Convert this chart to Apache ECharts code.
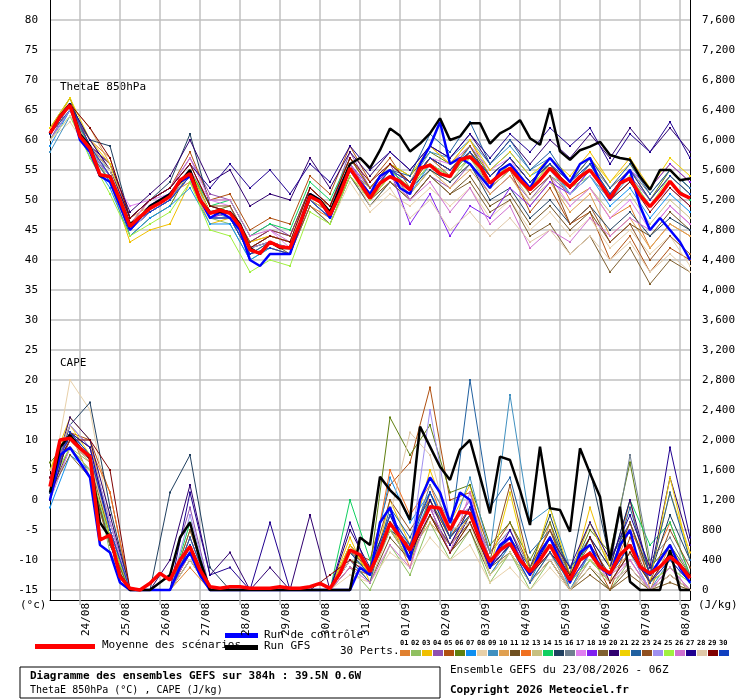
<!DOCTYPE html>
<html>
<head>
<meta charset="utf-8">
<script src="https://cdn.jsdelivr.net/npm/echarts@6/dist/echarts.min.js"></script>
<style>body{margin:0;background:#fff}#chart{width:740px;height:700px}</style>
</head>
<body>
<div id="chart"></div>
<script>
// ensemble GEFS 23/08 06Z, echeances toutes les 6h (0..384h)
var dayLabels = ['24/08','25/08','26/08','27/08','28/08','29/08','30/08','31/08','01/09','02/09','03/09','04/09','05/09','06/09','07/09','08/09'];
var leftTicks = [-15,-10,-5,0,5,10,15,20,25,30,35,40,45,50,55,60,65,70,75,80];
var rightTicks = [0,400,800,1200,1600,2000,2400,2800,3200,3600,4000,4400,4800,5200,5600,6000,6400,6800,7200,7600];
var pertColors = ['#e08030','#90c060','#f0c000','#9050b0','#b05010','#608010','#1090f0','#e8d0a8','#4090c0','#e0a050',
  '#705020','#f07020','#c8c080','#10d060','#204060','#708090','#e080f0','#8020f0','#806030','#300070',
  '#f0d000','#2060a0','#905020','#a090f0','#a0f040','#d070d0','#200090','#e0c8a8','#800000','#1040c0'];

// pas de 6h (65 valeurs)
var meanTheta = [61.1,63.9,65.8,60.6,58.6,54.2,53.9,50,45.6,47.2,48.6,49.5,50.6,53.3,54.4,50,47.8,48.3,47.8,45.6,41.7,41.1,43,42.2,42,46.1,50.6,49.7,47.5,51.1,55.3,
  52.8,50.3,52.8,53.9,53.1,51.7,55.3,55.8,54.4,53.9,56.7,57.2,55.6,52.8,54.2,55.3,53.3,51.7,53.3,55.3,53.6,52.2,53.9,55,52.8,50.3,52.8,53.6,50.8,48.9,50.8,53.1,51.1,50.3];
var ctrlTheta = [61,64,66,60,58,54,53,49,45,47,49,50,51,53,54,50,47,48,47,45,40,39,41,41,41,46,51,50,47,52,55,
  53,51,54,55,52,51,56,59,63,56,57,56,54,52,55,56,54,52,55,57,55,53,56,57,53,50,53,55,49,45,47,45,43,40];
var gfsTheta = [61,64,66,61,59,54,54,50,46,47,49,50,51,53,55,50,48,48,48,46,42,41,43,42,42,46,51,50,48,52,56,
  57,55.3,58.3,61.9,60.7,58.1,59.4,61.1,63.6,60,60.6,62.8,62.8,59.4,61.1,62,63.3,60.3,59.2,65.3,58.1,56.7,58.3,58.9,59.7,57.5,57,56.7,53.9,51.7,55,55,53.3,53.6];
var meanCape = [1378,2000,2022,1889,1778,667,733,178,22,0,89,222,133,400,578,267,44,22,44,44,22,22,22,44,22,22,44,89,22,222,533,
  470,244,533,889,711,533,844,1111,1089,800,1044,1022,667,378,533,622,400,244,400,600,356,133,400,489,311,222,467,600,311,222,311,444,333,156];
var ctrlCape = [1200,1800,1900,1700,1500,600,500,100,0,0,0,0,0,300,500,200,0,0,0,0,0,0,0,0,0,0,0,0,0,0,0,
  300,200,900,1100,700,400,1200,1500,1300,900,1300,1200,700,300,600,700,400,200,500,700,400,100,500,600,300,200,600,800,300,200,400,600,300,100];
var gfsCape = [1300,1900,2067,1900,1750,900,700,200,0,0,0,100,200,700,900,400,0,0,0,0,0,0,0,0,0,0,0,0,0,0,0,
  700,600,1511,1333,1200,933,2178,1911,1644,1467,1867,2000,1511,1022,1778,1733,1333,867,1911,1089,1067,778,1889,1556,1244,400,1111,111,0,0,0,533,0,0];

// perturbations, pas de 12h (33 valeurs)
var pertTheta = [
 [60,65,60,57,46,49,51,55,49,48,43,44,43,51,49,57,52,55,53,59,56,60,54,57,53,56,50,52,47,49,42,46,44],
 [62,66,59,53,45,48,50,54,47,46,40,42,41,50,47,55,50,54,51,55,53,57,52,55,51,54,52,54,50,53,49,53,50],
 [61,67,58,53,43,45,46,53,46,47,42,44,43,51,48,56,51,55,52,57,55,58,53,56,52,57,54,58,53,57,52,56,53],
 [60,66,59,56,47,50,52,57,51,50,44,46,44,52,49,58,52,56,50,54,52,56,51,54,50,54,51,55,51,54,50,54,51],
 [61,65,60,55,46,50,52,58,50,51,45,47,46,54,51,59,53,57,52,57,54,58,52,55,48,52,46,48,40,44,38,42,40],
 [62,67,58,54,44,47,49,55,48,49,42,44,43,50,48,55,52,56,54,58,56,59,54,57,53,56,52,56,51,55,50,55,52],
 [59,65,57,52,44,47,49,52,46,46,40,42,41,49,46,54,49,53,51,56,54,59,55,58,54,56,51,54,49,52,47,51,48],
 [60,63,58,54,46,49,51,53,47,47,41,42,41,49,46,53,48,51,49,52,49,52,47,50,45,48,44,47,42,45,41,44,39],
 [58,64,58,55,45,48,50,54,48,47,41,43,42,50,47,55,51,55,53,58,57,60,56,59,55,57,53,56,50,54,49,53,50],
 [61,66,62,56,47,49,51,53,47,48,42,44,43,50,48,55,50,53,51,55,52,55,51,54,49,53,48,51,44,47,42,46,44],
 [61,66,59,54,46,49,51,55,48,48,42,43,42,50,47,55,50,53,50,54,51,54,49,51,46,49,45,48,43,46,44,48,45],
 [62,66,59,54,46,48,50,54,47,47,41,42,41,49,47,54,50,54,52,56,54,57,53,56,52,56,53,57,52,55,50,54,51],
 [61,66,58,53,45,48,50,54,47,47,41,43,42,51,48,56,51,54,51,55,53,56,52,55,50,53,49,52,48,51,46,50,47],
 [60,65,59,55,46,49,51,55,49,50,44,46,45,53,50,57,52,55,52,56,54,58,53,56,52,55,51,54,50,53,49,53,50],
 [61,66,60,59,47,50,53,61,49,48,42,44,43,51,48,56,51,54,52,55,53,56,50,52,47,50,46,49,45,48,44,47,45],
 [61,66,58,54,45,48,50,55,48,48,42,43,42,51,48,55,51,55,53,57,55,58,54,57,53,56,52,56,52,55,51,55,52],
 [61,66,59,54,49,50,51,55,50,49,43,45,42,52,49,57,52,55,53,57,56,59,55,57,51,54,49,52,47,50,45,49,46],
 [60,65,58,54,45,48,50,54,47,48,43,45,44,52,49,56,52,55,46,51,44,49,47,52,49,53,51,55,51,55,52,56,53],
 [61,66,59,55,46,49,51,55,48,48,42,43,41,49,46,54,49,53,50,54,51,53,48,50,44,46,41,44,38,42,36,40,38],
 [61,66,59,56,48,51,54,60,53,55,49,51,50,57,52,58,54,58,55,59,57,61,56,60,56,60,57,61,57,62,58,62,58],
 [62,67,60,56,46,49,51,55,48,48,43,44,43,52,49,57,52,56,54,59,56,60,55,58,54,57,53,57,53,56,52,57,54],
 [61,65,58,53,45,48,50,54,47,47,41,43,42,50,47,55,51,55,54,61,58,63,56,60,55,58,53,57,52,56,51,55,52],
 [61,66,59,55,47,50,52,56,49,49,43,45,44,52,49,57,52,56,53,57,55,59,53,56,51,54,46,49,43,46,40,44,41],
 [60,65,58,54,45,48,50,54,47,47,42,43,42,50,47,55,51,54,52,56,54,57,53,56,52,55,51,54,50,53,49,52,49],
 [60,64,57,51,44,46,48,53,45,44,38,40,39,48,46,54,50,54,52,56,54,57,53,56,52,56,52,55,51,54,49,54,51],
 [61,66,59,54,46,50,52,57,50,50,44,45,43,51,48,56,51,54,50,53,48,52,46,49,42,45,43,47,44,47,45,49,46],
 [61,66,60,55,47,50,52,56,52,56,52,55,51,56,53,59,55,58,55,59,57,61,57,61,58,62,59,62,56,61,58,63,57],
 [60,64,59,55,46,49,51,54,48,48,42,44,43,51,48,55,49,52,47,50,45,48,44,47,43,45,41,44,40,43,38,41,38],
 [61,66,62,57,47,50,52,56,49,48,42,44,43,52,49,57,53,56,53,57,55,58,54,57,53,56,52,55,50,53,48,52,49],
 [61,66,59,54,46,48,50,54,47,47,41,42,41,50,47,55,51,55,53,57,55,58,54,57,53,56,53,56,51,55,50,54,51]
];
var pertCape = [
 [1200,2100,1500,600,0,0,0,300,0,0,0,0,0,0,0,400,200,900,300,1300,700,1100,200,600,100,900,0,500,100,1200,0,600,100],
 [1400,1900,1700,500,0,0,0,500,0,0,0,0,0,0,0,300,0,600,200,900,400,800,100,500,0,400,0,300,0,400,0,200,0],
 [1600,2300,2000,800,0,0,0,700,0,0,0,0,0,0,0,700,100,1200,600,1600,900,1400,300,700,200,500,100,1100,300,900,200,1300,500],
 [1300,2200,1900,900,0,0,200,1100,0,0,0,0,0,0,0,500,200,900,500,1000,600,1000,300,600,200,500,0,400,100,300,0,200,0],
 [1500,2100,2000,1300,0,0,0,600,0,0,0,0,0,0,0,500,400,1400,1700,2700,1200,1300,500,900,300,800,100,500,0,700,100,300,0],
 [1700,2000,1800,800,0,0,0,600,0,0,0,0,0,0,0,400,300,2300,1800,2200,1300,1400,600,900,400,900,200,800,500,1700,300,600,200],
 [1100,1800,1600,600,0,0,0,500,0,0,0,0,0,0,0,300,200,1500,900,1300,800,900,200,600,100,700,0,500,200,600,100,500,200],
 [1300,2800,2400,900,0,0,0,400,0,0,0,0,0,0,0,200,100,500,300,700,400,600,100,300,0,300,0,200,0,200,0,100,0],
 [1200,1900,1500,700,0,0,0,400,0,0,0,0,0,0,0,500,300,1000,600,1200,700,1500,500,2600,900,1100,300,700,100,500,0,400,100],
 [1400,2000,1700,900,0,0,0,800,0,0,0,0,0,0,0,600,200,800,500,900,600,1100,400,700,200,600,100,400,200,500,100,400,100],
 [1300,1900,1600,600,0,0,0,400,0,0,0,0,0,0,0,400,100,700,400,1000,500,800,200,500,100,400,0,300,0,300,0,200,0],
 [1500,2100,1900,1300,0,0,0,500,0,0,0,0,0,0,0,300,200,1600,1000,1400,700,1000,300,600,200,700,100,500,200,800,300,900,200],
 [1400,2000,1700,800,0,0,0,600,0,0,0,0,0,0,0,400,100,800,400,1000,600,900,200,500,100,500,0,400,100,400,0,300,0],
 [1600,2100,1800,700,0,0,0,900,0,0,0,0,0,0,0,1200,400,900,500,1200,700,1000,300,600,200,500,100,700,300,1200,600,900,200],
 [1300,2200,2500,1100,0,0,1300,1800,300,0,0,0,0,0,0,500,200,800,600,1100,800,1200,400,700,300,1000,200,1600,400,900,200,1000,400],
 [1400,2000,1800,700,0,0,0,500,0,0,0,0,0,0,0,400,200,900,600,1400,900,1100,500,800,300,700,200,900,300,1800,400,700,200],
 [1200,1900,1600,900,0,0,0,600,0,0,0,0,0,0,0,500,300,900,500,1100,800,1200,400,800,200,600,100,500,100,400,0,300,0],
 [1500,2100,1800,800,0,0,0,700,0,0,0,0,0,0,0,400,200,800,400,1000,600,1000,300,700,200,600,100,500,200,600,100,400,100],
 [1300,1800,1500,600,0,0,0,800,0,0,0,0,0,0,0,600,300,900,500,1000,600,900,300,500,100,400,0,200,0,200,0,100,0],
 [1400,2300,2000,1000,0,0,400,1400,200,500,0,300,0,1000,0,800,300,1000,500,1100,500,1000,300,600,200,600,200,700,300,1200,200,1500,600],
 [1600,2200,1800,700,0,0,0,500,0,0,0,0,0,0,0,600,200,900,400,1200,600,1000,300,1300,200,1100,200,900,300,600,100,1500,400],
 [1300,2100,1900,800,0,0,0,700,0,0,0,0,0,0,0,400,100,1100,700,1300,700,2800,1100,1500,500,800,300,600,200,1100,200,1300,400],
 [1400,2000,1700,700,0,0,0,500,0,0,0,0,0,0,0,500,300,1200,800,1200,700,1100,400,1400,300,800,200,600,200,900,100,800,300],
 [1500,2200,1900,900,0,0,0,1000,0,0,0,0,0,0,0,400,200,1000,500,2400,900,1100,400,600,200,500,100,400,100,500,0,300,100],
 [1400,1900,1600,700,0,0,0,600,0,0,0,0,0,0,0,500,200,800,400,1000,500,900,200,500,100,500,100,400,100,500,100,300,100],
 [1500,2000,1800,800,0,0,0,500,0,0,0,0,0,0,0,300,100,600,300,1100,500,1300,300,700,200,600,100,500,200,400,0,300,0],
 [1200,2100,1900,800,0,0,0,1300,200,300,0,900,0,0,0,900,200,1000,400,1200,600,1100,300,800,200,700,300,900,400,1000,300,1900,700],
 [1600,2000,1700,800,0,0,0,400,0,0,0,0,0,0,0,400,200,1000,2100,1800,800,900,200,500,100,400,0,300,100,300,0,200,0],
 [1500,2000,2000,1600,0,0,0,600,0,0,0,0,0,0,200,400,200,900,500,1000,500,900,300,600,200,500,200,700,100,500,100,500,200],
 [1400,2100,1800,800,0,0,0,600,0,0,0,0,0,0,0,500,200,1000,600,1300,700,1000,300,600,100,500,100,500,200,600,100,400,100]
];

// categories : une par echeance de 6h, jour a 00Z (index 3, 7, 11...)
var steps = [];
for (var s = 0; s <= 64; s++) steps.push(String(s * 6));
function isDay(i) { return i >= 3 && (i - 3) % 4 === 0; }

function pts(arr, k) {
  return arr.map(function (v, i) { return [i * k, v]; });
}
function line(name, data, color, width, axis, z, sym) {
  return {
    name: name, type: 'line', data: data, yAxisIndex: axis, z: z,
    symbol: sym ? 'rect' : 'none', symbolSize: 2,
    itemStyle: { color: color }, lineStyle: { color: color, width: width },
    silent: true
  };
}

var series = [];
for (var i = 0; i < 30; i++) {
  series.push(line('p' + (i + 1), pts(pertTheta[i], 2), pertColors[i], 1, 0, 2, true));
  series.push(line('c' + (i + 1), pts(pertCape[i], 2), pertColors[i], 1, 1, 2, true));
}
series.push(line('ctrl', pts(ctrlTheta, 1), '#0000ff', 2.5, 0, 3, false));
series.push(line('ctrlc', pts(ctrlCape, 1), '#0000ff', 2.5, 1, 3, false));
series.push(line('gfs', pts(gfsTheta, 1), '#000000', 2.5, 0, 3, false));
series.push(line('gfsc', pts(gfsCape, 1), '#000000', 2.5, 1, 3, false));
series.push(line('mean', pts(meanTheta, 1), '#ff0000', 3.5, 0, 4, false));
series.push(line('meanc', pts(meanCape, 1), '#ff0000', 3.5, 1, 4, false));

var mono = 'DejaVu Sans Mono';
var gfx = [
  { type: 'text', left: 60, top: 82, style: { text: 'ThetaE 850hPa', font: '11px ' + mono, fill: '#000' } },
  { type: 'text', left: 60, top: 358, style: { text: 'CAPE', font: '11px ' + mono, fill: '#000' } },
  { type: 'text', left: 20, top: 600, style: { text: '(°c)', font: '11px ' + mono, fill: '#000' } },
  { type: 'text', left: 698, top: 600, style: { text: '(J/kg)', font: '11px ' + mono, fill: '#000' } },
  { type: 'rect', shape: { x: 35, y: 644, width: 60, height: 5 }, style: { fill: '#ff0000' } },
  { type: 'text', left: 102, top: 640, style: { text: 'Moyenne des scénarios', font: '11px ' + mono, fill: '#000' } },
  { type: 'rect', shape: { x: 225, y: 633, width: 33, height: 5 }, style: { fill: '#0000ff' } },
  { type: 'text', left: 264, top: 630, style: { text: 'Run de contrôle', font: '11px ' + mono, fill: '#000' } },
  { type: 'rect', shape: { x: 225, y: 645, width: 33, height: 5 }, style: { fill: '#000' } },
  { type: 'text', left: 264, top: 641, style: { text: 'Run GFS', font: '11px ' + mono, fill: '#000' } },
  { type: 'text', left: 340, top: 646, style: { text: '30 Perts.', font: '11px ' + mono, fill: '#000' } },
  { type: 'rect', shape: { x: 20, y: 667, width: 420, height: 31 }, style: { fill: 'none', stroke: '#000', lineWidth: 1 } },
  { type: 'text', left: 30, top: 671, style: { text: 'Diagramme des ensembles GEFS sur 384h : 39.5N 0.6W', font: 'bold 11px ' + mono, fill: '#000' } },
  { type: 'text', left: 30, top: 685, style: { text: 'ThetaE 850hPa (°C) , CAPE (J/kg)', font: '10px ' + mono, fill: '#000' } },
  { type: 'text', left: 450, top: 665, style: { text: 'Ensemble GEFS du 23/08/2026 - 06Z', font: '11px ' + mono, fill: '#000' } },
  { type: 'text', left: 450, top: 685, style: { text: 'Copyright 2026 Meteociel.fr', font: 'bold 11px ' + mono, fill: '#000' } }
];
for (var k = 0; k < 30; k++) {
  var nx = 400 + k * 11;
  gfx.push({ type: 'text', left: nx, top: 640, style: { text: (k < 9 ? '0' : '') + (k + 1), font: 'bold 7px ' + mono, fill: '#000' } });
  gfx.push({ type: 'rect', shape: { x: nx, y: 650, width: 10, height: 6 }, style: { fill: pertColors[k] } });
}

var chart = echarts.init(document.getElementById('chart'));
chart.setOption({
  animation: false,
  backgroundColor: '#fff',
  textStyle: { fontFamily: mono },
  grid: { left: 50, right: 50, top: 0, bottom: 100 },
  xAxis: {
    type: 'category', data: steps, boundaryGap: false,
    axisLine: { onZero: false, lineStyle: { color: '#000' } },
    axisTick: { show: true, length: 5, interval: function (i) { return isDay(i); }, lineStyle: { color: '#c0c0c0', width: 1.5 } },
    axisLabel: { show: false },
    splitLine: { show: true, interval: function (i) { return isDay(i); }, lineStyle: { color: '#c0c0c0', width: 1.5 } }
  },
  yAxis: [{
    type: 'value', min: -16.6667, max: 83.3333, position: 'left',
    axisLine: { show: true, lineStyle: { color: '#000' } },
    axisTick: { show: false, customValues: leftTicks },
    axisLabel: { customValues: leftTicks, color: '#000', fontSize: 11, fontFamily: mono, margin: 12 },
    splitLine: { show: true, lineStyle: { color: '#c0c0c0', width: 1.5 } }
  }, {
    type: 'value', min: -133.333, max: 7866.667, position: 'right',
    axisLine: { show: true, lineStyle: { color: '#000' } },
    axisTick: { show: false, customValues: rightTicks },
    axisLabel: { customValues: rightTicks, color: '#000', fontSize: 11, fontFamily: mono, margin: 12 },
    splitLine: { show: false }
  }],
  series: series,
  graphic: gfx
});

// dates verticales sous l'axe, placees avec l'echelle de l'axe x
var dateGfx = dayLabels.map(function (lab, d) {
  var px = chart.convertToPixel({ xAxisIndex: 0 }, String((3 + d * 4) * 6));
  return {
    type: 'text', x: px + 1, y: 603, rotation: Math.PI / 2,
    style: { text: lab, font: '11px ' + mono, fill: '#000', align: 'right', verticalAlign: 'top' }
  };
});
chart.setOption({ graphic: gfx.concat(dateGfx) });
</script>
</body>
</html>
